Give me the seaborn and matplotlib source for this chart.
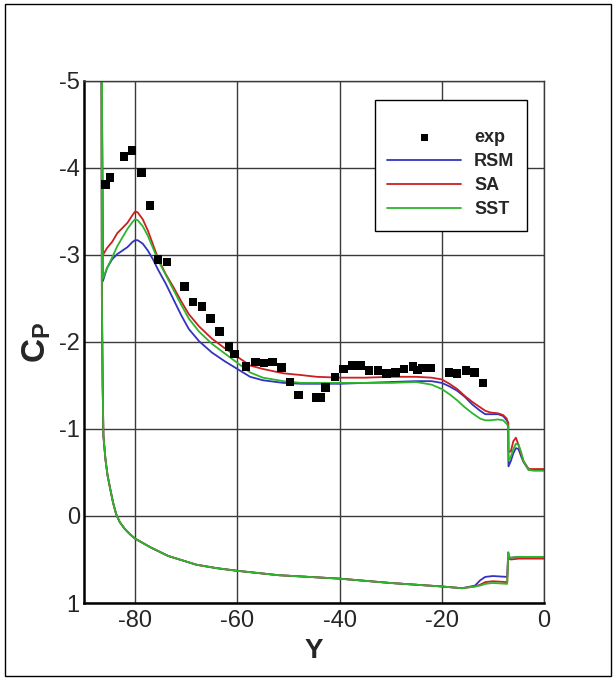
import matplotlib
matplotlib.use("Agg")
import matplotlib.pyplot as plt
from matplotlib.patches import Rectangle
from matplotlib.ticker import MultipleLocator
import seaborn as sns

# ---------------- data ----------------
exp_x = [-85.8, -84.9, -82.2, -80.6, -78.8, -77.1, -75.5, -73.8, -70.3, -68.7, -66.9, -65.2,
         -63.5, -61.6, -60.6, -58.3, -56.5, -54.8, -53.1, -51.4, -49.7, -48.0, -44.5, -43.6,
         -42.8, -40.9, -39.2, -37.5, -35.9, -34.2, -32.5, -30.8, -29.1, -27.4, -25.6, -24.7,
         -23.9, -22.2, -18.6, -17.0, -15.3, -13.6, -11.9]
exp_cp = [-3.81, -3.89, -4.13, -4.20, -3.95, -3.57, -2.95, -2.92, -2.64, -2.46, -2.41, -2.27,
          -2.12, -1.95, -1.86, -1.72, -1.77, -1.76, -1.77, -1.71, -1.54, -1.39, -1.36, -1.36,
          -1.48, -1.60, -1.69, -1.73, -1.73, -1.67, -1.67, -1.64, -1.65, -1.69, -1.72, -1.68,
          -1.70, -1.70, -1.65, -1.64, -1.67, -1.65, -1.53]

upper_x = [-86.6, -86.3, -85.5, -84.5, -83.5, -82.5, -81.5, -80.5, -80.0, -79.5, -78.5, -77.5,
           -76.5, -75.5, -74.0, -72.5, -71.0, -69.5, -67.5, -65.0, -62.5, -60.0, -57.5, -55.0,
           -51.0, -47.5, -44.5, -40.0, -35.0, -30.0, -25.0, -22.0, -20.0, -18.5, -17.0, -15.5,
           -14.0, -12.5, -11.5, -10.5, -9.0, -8.0, -7.3, -7.0, -6.95, -6.5, -6.0, -5.5,
           -5.0, -4.5, -4.0, -3.0, -2.0, 0.0]
rsm_upper = [-6.0, -2.70, -2.85, -2.95, -3.01, -3.05, -3.09, -3.15, -3.17, -3.17, -3.13, -3.05,
             -2.95, -2.83, -2.67, -2.49, -2.31, -2.15, -2.01, -1.88, -1.78, -1.69, -1.60, -1.56,
             -1.53, -1.52, -1.52, -1.52, -1.53, -1.54, -1.55, -1.55, -1.53, -1.49, -1.44, -1.37,
             -1.28, -1.21, -1.17, -1.17, -1.17, -1.15, -1.10, -1.07, -0.57, -0.63, -0.72, -0.78,
             -0.77, -0.69, -0.62, -0.53, -0.53, -0.53]
sa_upper = [-6.0, -3.00, -3.08, -3.15, -3.25, -3.31, -3.37, -3.46, -3.50, -3.49, -3.41, -3.28,
            -3.12, -2.96, -2.78, -2.63, -2.47, -2.32, -2.18, -2.04, -1.93, -1.83, -1.73, -1.69,
            -1.64, -1.62, -1.60, -1.59, -1.59, -1.60, -1.60, -1.59, -1.57, -1.52, -1.46, -1.38,
            -1.31, -1.25, -1.21, -1.19, -1.18, -1.16, -1.12, -1.06, -0.74, -0.74, -0.86, -0.90,
            -0.82, -0.72, -0.63, -0.54, -0.54, -0.54]
sst_upper = [-6.0, -2.73, -2.85, -2.97, -3.10, -3.20, -3.30, -3.38, -3.41, -3.40, -3.33, -3.22,
             -3.08, -2.94, -2.77, -2.60, -2.43, -2.27, -2.12, -1.98, -1.87, -1.76, -1.65, -1.59,
             -1.55, -1.53, -1.53, -1.53, -1.53, -1.53, -1.54, -1.51, -1.46, -1.40, -1.33, -1.25,
             -1.18, -1.12, -1.10, -1.10, -1.11, -1.10, -1.06, -1.03, -0.64, -0.68, -0.77, -0.83,
             -0.82, -0.74, -0.63, -0.53, -0.52, -0.52]

lower_x = [-86.6, -86.5, -86.35, -86.2, -85.8, -85.4, -84.9, -84.3, -83.7, -83.0, -82.0, -81.0,
           -80.0, -77.0, -73.5, -68.0, -64.0, -60.0, -52.0, -40.0, -30.0, -20.0, -16.0, -13.5,
           -12.5, -11.5, -10.0, -7.2, -7.0, -6.9, -6.5, -5.0, -3.0, 0.0]
rsm_lower = [-6.0, -2.5, -1.5, -0.92, -0.65, -0.47, -0.32, -0.15, -0.02, 0.07, 0.15, 0.21,
             0.26, 0.36, 0.46, 0.56, 0.60, 0.63, 0.68, 0.72, 0.77, 0.81, 0.83, 0.80,
             0.74, 0.70, 0.69, 0.70, 0.42, 0.47, 0.48, 0.47, 0.47, 0.47]
sa_lower = [-6.0, -2.5, -1.5, -0.92, -0.65, -0.47, -0.32, -0.15, -0.02, 0.07, 0.15, 0.21,
            0.26, 0.36, 0.46, 0.56, 0.60, 0.63, 0.68, 0.72, 0.77, 0.81, 0.83, 0.81,
            0.79, 0.76, 0.75, 0.76, 0.42, 0.49, 0.50, 0.49, 0.49, 0.49]
sst_lower = [-6.0, -2.5, -1.5, -0.92, -0.65, -0.47, -0.32, -0.15, -0.02, 0.07, 0.15, 0.21,
             0.26, 0.36, 0.46, 0.56, 0.60, 0.63, 0.68, 0.72, 0.77, 0.81, 0.83, 0.81,
             0.80, 0.78, 0.77, 0.78, 0.42, 0.47, 0.48, 0.47, 0.47, 0.47]

series_names = ["RSM", "SA", "SST"]
series_upper = [rsm_upper, sa_upper, sst_upper]
series_lower = [rsm_lower, sa_lower, sst_lower]
series_colors = ["#3333c0", "#cc1f1f", "#2db52d"]

x_ticks = [-80, -60, -40, -20, 0]
y_ticks = [-5, -4, -3, -2, -1, 0, 1]

# ---------------- style ----------------
sns.set_style("white")
plt.rcParams["font.family"] = ["Liberation Sans", "DejaVu Sans"]
plt.rcParams["axes.unicode_minus"] = False
plt.rcParams["mathtext.fontset"] = "custom"
plt.rcParams["mathtext.rm"] = "Liberation Sans"
plt.rcParams["mathtext.bf"] = "Liberation Sans:bold"

fig = plt.figure(figsize=(6.16, 6.79), dpi=100)
ax = fig.add_axes([84 / 616, 1 - 603 / 679, 460 / 616, 522 / 679])

for name, up, lo, col in zip(series_names, series_upper, series_lower, series_colors):
    xs = upper_x[::-1] + lower_x
    ys = up[::-1] + lo
    sns.lineplot(x=xs, y=ys, sort=False, estimator=None, color=col, lw=1.3,
                 ax=ax, label=name)

sns.scatterplot(x=exp_x, y=exp_cp, marker="s", s=38, color="black", edgecolor="none",
                ax=ax, label="exp", zorder=5)

ax.set_xlim(-90, 0)
ax.set_ylim(1, -5)
ax.set_xticks(x_ticks)
ax.set_yticks(y_ticks)
ax.xaxis.set_minor_locator(MultipleLocator(5))
ax.yaxis.set_minor_locator(MultipleLocator(0.2))
ax.tick_params(which="both", direction="in", labelsize=17, top=False, right=False)
ax.tick_params(which="major", length=8, width=1.2, pad=5)
ax.tick_params(axis="y", which="major", pad=3)
ax.tick_params(which="minor", length=6, width=1)
ax.grid(True, which="major", color="#3a3a3a", lw=1.0)
ax.set_axisbelow(True)

for side in ["left", "bottom"]:
    ax.spines[side].set_linewidth(1.8)
    ax.spines[side].set_color("black")
for side in ["top", "right"]:
    ax.spines[side].set_linewidth(1.0)
    ax.spines[side].set_color("#3a3a3a")

ax.set_xlabel("Y", fontsize=20, fontweight="bold", labelpad=4)
ax.set_ylabel(r"$\mathbf{C_P}$", fontsize=24, labelpad=4)

handles, labels = ax.get_legend_handles_labels()
order = [labels.index(n) for n in ["exp", "RSM", "SA", "SST"]]
leg = ax.legend([handles[i] for i in order], [labels[i] for i in order],
                loc="upper right", bbox_to_anchor=(0.963, 0.964), borderaxespad=0,
                prop={"family": ["Liberation Sans Narrow", "Liberation Sans"],
                      "size": 13, "weight": "bold"},
                title=" ", title_fontsize=7,
                handlelength=4.1, handletextpad=0.7, labelspacing=0.38,
                frameon=True, fancybox=False, borderpad=0.7, markerscale=0.75)
leg.get_frame().set_edgecolor("black")
leg.get_frame().set_linewidth(1.0)
leg.get_frame().set_alpha(1)

fig.patches.append(Rectangle((5 / 616, 3 / 679), 606 / 616, 672 / 679, transform=fig.transFigure,
                             fill=False, edgecolor="black", lw=1.0))

fig.savefig("out.png", dpi=100)
